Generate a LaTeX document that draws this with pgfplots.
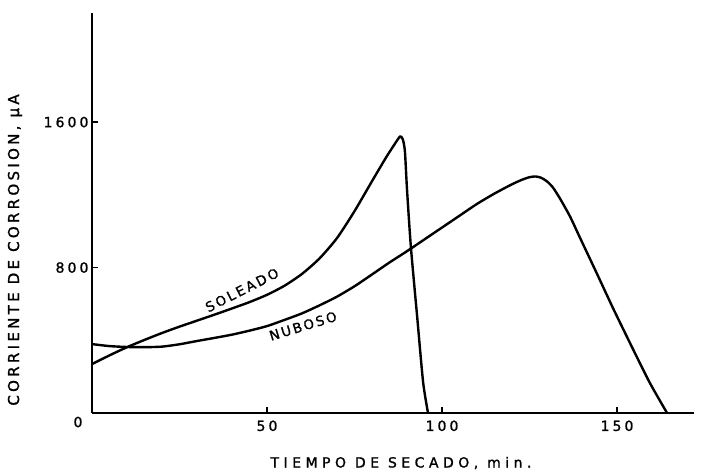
\documentclass[border=0pt]{standalone}
\usepackage{fontspec}
\setmainfont{DejaVu Sans}[FakeBold=1.2]
\usepackage{pgfplots}
\pgfplotsset{compat=1.18}
\begin{document}
\begin{tikzpicture}
\begin{axis}[
  at={(92pt,62pt)}, anchor=south west,
  scale only axis, width=602pt, height=400pt,
  xmin=0, xmax=172, ymin=0, ymax=2200,
  axis x line=bottom, axis y line=left,
  axis line style={-, line width=2pt},
  clip=false,
  xtick={50,100,150}, ytick={0,800,1600},
  yticklabels={{},800,1600},
  tick align=inside, major tick length=6pt,
  tick style={line width=1.3pt, black},
  /pgf/number format/assume math mode=true,
  ticklabel style={font=\fontsize{14}{15}\selectfont\addfontfeatures{LetterSpace=22}},
  xticklabel style={yshift=-4pt},
]
\addplot[black, line width=2.4pt, line join=round, smooth, tension=0.4] coordinates {
(0,269) (5,317) (10,362) (15,402) (20,440) (25,475) (30,508) (35,541) (40,575)
(45,610) (50,650) (55,700) (60,765) (65,850) (70,962) (75,1110)
(80,1275) (84,1405) (86,1465) (87.3,1503) (88.1,1522) (88.8,1505) (89.4,1440)
(90,1230) (91.1,915) (92.9,530) (94.6,170) (96,0)
};
\addplot[black, line width=2.4pt, line join=round, smooth, tension=0.4] coordinates {
(0,379) (5,368) (10,363) (15,362) (20,365) (25,378) (30,396) (35,413) (40,431)
(45,453) (50,478) (55,512) (60,548) (65,592) (70,640) (75,697) (80,762)
(85,828) (90,890) (95,955) (100,1020) (105,1085) (110,1150) (115,1207)
(120,1258) (123,1284) (125,1297) (126.7,1301) (128.3,1294) (130,1274)
(131.7,1240) (133.7,1180) (136.6,1080) (139.4,965) (144.3,765) (148.9,575) (154.6,350)
(159.4,165) (164.3,0)
};
\end{axis}
\node[font=\fontsize{14}{15}\selectfont\addfontfeatures{LetterSpace=22}] at (78pt,53pt) {0};
\node[rotate=90, font=\fontsize{15}{16}\selectfont\addfontfeatures{LetterSpace=22}] at (15pt,225pt) {CORRIENTE DE CORROSION, μA};
\node[font=\fontsize{14}{15}\selectfont\addfontfeatures{LetterSpace=32}] at (401pt,12pt) {TIEMPO DE SECADO, min.};
\node[rotate=27, font=\fontsize{13.5}{14}\selectfont\addfontfeatures{LetterSpace=18}] at (242pt,185pt) {SOLEADO};
\node[rotate=17, font=\fontsize{13.5}{14}\selectfont\addfontfeatures{LetterSpace=16}] at (303pt,149pt) {NUBOSO};
\pgfresetboundingbox
\path (0,0) rectangle (709pt,475pt);
\end{tikzpicture}
\end{document}
